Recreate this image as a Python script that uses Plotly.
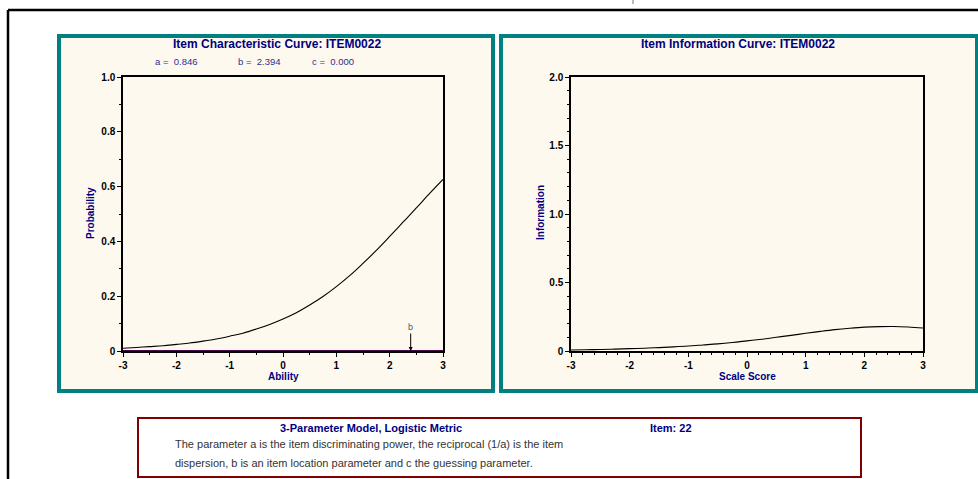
import plotly.graph_objects as go

W, H = 978, 479

# ---- data ----
theta = [-3.0, -2.75, -2.5, -2.25, -2.0, -1.75, -1.5, -1.25, -1.0, -0.75, -0.5, -0.25,
         0.0, 0.25, 0.5, 0.75, 1.0, 1.25, 1.5, 1.75, 2.0, 2.25, 2.5, 2.75, 3.0]
prob = [0.010, 0.013, 0.016, 0.019, 0.024, 0.029, 0.036, 0.044, 0.054, 0.065, 0.080, 0.097,
        0.117, 0.140, 0.168, 0.199, 0.235, 0.275, 0.320, 0.367, 0.418, 0.470, 0.522, 0.575, 0.626]
info = [0.007, 0.009, 0.011, 0.014, 0.017, 0.020, 0.025, 0.030, 0.036, 0.044, 0.052, 0.062,
        0.074, 0.086, 0.100, 0.114, 0.129, 0.143, 0.156, 0.166, 0.174, 0.178, 0.179, 0.175, 0.168]
b_location = 2.394
param_labels = ["a =  0.846", "b =  2.394", "c =  0.000"]
x_ticks = [-3, -2, -1, 0, 1, 2, 3]
x_ticktext = ["-3", "-2", "-1", "0", "1", "2", "3"]
prob_ticks = [0, 0.2, 0.4, 0.6, 0.8, 1.0]
prob_ticktext = ["0", "0.2", "0.4", "0.6", "0.8", "1.0"]
info_ticks = [0, 0.5, 1.0, 1.5, 2.0]
info_ticktext = ["0", "0.5", "1.0", "1.5", "2.0"]

NAVY = "#000080"
TEAL = "#008080"
CREAM = "#FEF9EE"
FONT = "Arial, Liberation Sans, sans-serif"


def px(x):
    return x / W


def py(y):
    return 1 - y / H


fig = go.Figure()
fig.add_trace(go.Scatter(x=theta, y=prob, mode="lines", line=dict(color="black", width=1.1, shape="spline"),
                         xaxis="x", yaxis="y", hoverinfo="skip", showlegend=False))
fig.add_trace(go.Scatter(x=theta, y=info, mode="lines", line=dict(color="black", width=1.1, shape="spline"),
                         xaxis="x2", yaxis="y2", hoverinfo="skip", showlegend=False))

tickfont = dict(family=FONT, size=10, color="black", weight="bold")


def xaxis(domain, anchor, minor_dtick):
    return dict(domain=domain, anchor=anchor, range=[-3, 3], tickmode="array", tickvals=x_ticks,
                ticktext=x_ticktext, ticks="outside", ticklen=4, tickwidth=1.2, tickcolor="black",
                showline=True, linecolor="black", linewidth=1.5, mirror=True, showgrid=False,
                zeroline=False, tickfont=tickfont,
                minor=dict(tickmode="linear", dtick=minor_dtick, ticks="outside", ticklen=2,
                           tickcolor="black", tickwidth=1, showgrid=False))


def yaxis(domain, anchor, rng, tv, tt, minor_dtick):
    return dict(domain=domain, anchor=anchor, range=rng, tickmode="array", tickvals=tv, ticktext=tt,
                ticks="outside", ticklen=4, tickwidth=1.2, tickcolor="black", showline=True,
                linecolor="black", linewidth=1.5, mirror=True, showgrid=False, zeroline=False,
                tickfont=tickfont,
                minor=dict(tickmode="linear", dtick=minor_dtick, ticks="outside", ticklen=2,
                           tickcolor="black", tickwidth=1, showgrid=False))


ydom = [py(351), py(77)]
fig.update_layout(
    width=W, height=H, margin=dict(l=0, r=0, t=0, b=0, autoexpand=False),
    paper_bgcolor="white", plot_bgcolor="white",
    xaxis=xaxis([px(123), px(443)], "y", 0.5),
    yaxis=yaxis(ydom, "x", [0, 1.0], prob_ticks, prob_ticktext, 0.1),
    xaxis2=xaxis([px(571), px(923)], "y2", 0.2),
    yaxis2=yaxis(ydom, "x2", [0, 2.0], info_ticks, info_ticktext, 0.1),
    showlegend=False,
)

shapes = []
# outer frame
shapes.append(dict(type="line", xref="paper", yref="paper", x0=px(8), x1=1, y0=py(10), y1=py(10),
                   line=dict(color="black", width=2.5), layer="below"))
shapes.append(dict(type="line", xref="paper", yref="paper", x0=px(8), x1=px(8), y0=py(10), y1=0,
                   line=dict(color="black", width=2.5), layer="below"))
shapes.append(dict(type="line", xref="paper", yref="paper", x0=px(633), x1=px(633), y0=1, y1=py(4),
                   line=dict(color="#777777", width=1), layer="below"))
# panels
shapes.append(dict(type="rect", xref="paper", yref="paper", x0=px(59), x1=px(493), y0=py(391), y1=py(36),
                   fillcolor=CREAM, line=dict(color=TEAL, width=4), layer="below"))
shapes.append(dict(type="rect", xref="paper", yref="paper", x0=px(501), x1=px(977), y0=py(391), y1=py(36),
                   fillcolor=CREAM, line=dict(color=TEAL, width=4), layer="below"))
# bottom text box
shapes.append(dict(type="rect", xref="paper", yref="paper", x0=px(138), x1=px(861), y0=py(477), y1=py(418),
                   fillcolor="white", line=dict(color="#800000", width=2), layer="below"))
# purple baseline of the ICC
shapes.append(dict(type="line", xref="x", yref="y", x0=-3, x1=3, y0=0, y1=0,
                   line=dict(color="#4A0A4A", width=2)))
fig.update_layout(shapes=shapes)

ann = []


def text(x, y, s, size, color=NAVY, bold=True, xanchor="center", textangle=0):
    ann.append(dict(x=px(x), y=py(y), xref="paper", yref="paper", text=s, showarrow=False,
                    xanchor=xanchor, yanchor="middle", textangle=textangle,
                    font=dict(family=FONT, size=size, color=color, weight="bold" if bold else "normal")))


text(277, 44, "Item Characteristic Curve: ITEM0022", 12)
text(738, 44, "Item Information Curve: ITEM0022", 12)
for xc, lab in zip([176, 259, 333], param_labels):
    text(xc, 62, lab, 9.5, color="#2E2E8F", bold=False)
text(283, 376, "Ability", 10)
text(747, 376, "Scale Score", 10)
text(90, 213, "Probability", 10, textangle=-90)
text(540, 213, "Information", 10, textangle=-90)
text(371, 428, "3-Parameter Model, Logistic Metric", 11)
text(671, 428, "Item: 22", 11)
text(173, 444, "The parameter a is the item discriminating power, the reciprocal (1/a) is the item",
     11, color="#333333", bold=False, xanchor="left")
text(173, 463, "dispersion, b is an item location parameter and c the guessing parameter.",
     11, color="#333333", bold=False, xanchor="left")

ann.append(dict(x=b_location, y=0, xref="x", yref="y", text="b", showarrow=True, ax=0, ay=-24,
                arrowhead=2, arrowsize=0.8, arrowwidth=1, arrowcolor="black", standoff=0,
                font=dict(family=FONT, size=9, color="#555555")))
fig.update_layout(annotations=ann)

fig.write_html("out.html",
               post_script="document.body.style.margin='0';document.body.style.padding='0';"
                           "document.body.style.overflow='hidden';")
